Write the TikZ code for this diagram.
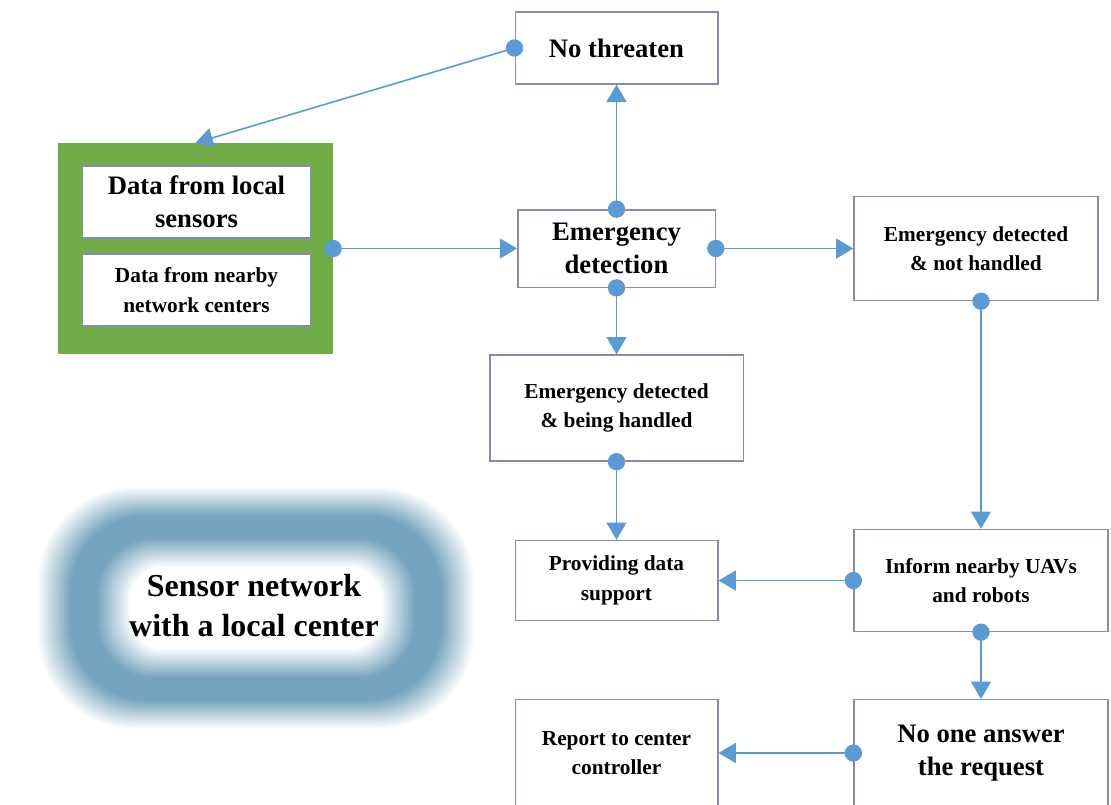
\documentclass[tikz,border=0pt]{standalone}
\usepackage{fontspec}
\setmainfont{Liberation Serif}
\usetikzlibrary{arrows.meta}

\definecolor{lineblue}{HTML}{5B9BD5}
\definecolor{boxline}{HTML}{8E88AE}
\definecolor{framegreen}{HTML}{70AD47}
\definecolor{cloudblue}{HTML}{74A3BD}

\begin{document}
\begin{tikzpicture}[x=0.75pt, y=-0.75pt,
    box/.style={draw=boxline, line width=1pt, fill=white, align=center, font=\bfseries},
    bigtext/.style={font=\fontsize{20}{25}\selectfont\bfseries},
    smalltext/.style={font=\fontsize{16}{22}\selectfont\bfseries},
    link/.style={draw=lineblue, line width=1.2pt, -{Triangle[width=15pt,length=13pt]}},
    dot/.style={fill=lineblue}]
    \useasboundingbox (0,0) rectangle (1111,804);

    % blurred cloud around the label
    \foreach \i in {0,...,60} {
        \pgfmathsetmacro\t{\i/60}
        \pgfmathsetmacro\c{max(0, min(100, 300*\t, 300*(0.9-\t)))}
        \pgfmathsetmacro\w{220 - 105*\t}
        \pgfmathsetmacro\h{122 - 90*\t}
        \pgfmathsetmacro\r{0.75*\h*0.8}
        \fill[cloudblue!\c!white, rounded corners=\r pt] (256-\w, 608-\h) rectangle (256+\w, 608+\h);
    }
    \node[font=\fontsize{24}{30}\selectfont\bfseries, align=center] (sensnet) at (254,606) {Sensor network\\with a local center};

    % green frame with the two data boxes
    \node[fill=framegreen, minimum width=206pt, minimum height=158pt] (green) at (195.5,248.5) {};
    \node[box, bigtext, minimum width=171pt, minimum height=54pt] (local) at (196.5,202) {Data from local\\sensors};
    \node[box, smalltext, minimum width=171pt, minimum height=54pt] (nearby) at (196.5,290) {Data from nearby\\network centers};

    % flow boxes
    \node[box, bigtext, minimum width=152pt, minimum height=54pt] (nothr) at (616.5,48) {No threaten};
    \node[box, bigtext, minimum width=148pt, minimum height=58pt] (emg) at (616.5,248.5) {Emergency\\detection};
    \node[box, smalltext, minimum width=183pt, minimum height=78pt] (nothand) at (976,248.5) {Emergency detected\\\& not handled};
    \node[box, smalltext, minimum width=190pt, minimum height=79.5pt] (beinghand) at (616.5,408) {Emergency detected\\\& being handled};
    \node[box, smalltext, minimum width=152pt, minimum height=60pt] (provide) at (616.5,580.5) {Providing data\\support};
    \node[box, smalltext, minimum width=190.5pt, minimum height=76.5pt] (inform) at (981,580.5) {Inform nearby UAVs\\and robots};
    \node[box, bigtext, minimum width=190.5pt, minimum height=80pt] (noone) at (981,753) {No one answer\\the request};
    \node[box, smalltext, minimum width=152pt, minimum height=80pt] (report) at (616.5,753) {Report to center\\controller};

    % connectors
    \coordinate (handout) at (inform.north |- nothand.south);
    \draw[link] (nothr.west) -- (green.north);
    \draw[link] (green.east) -- (emg.west);
    \draw[link] (emg.north) -- (nothr.south);
    \draw[link] (emg.east) -- (nothand.west);
    \draw[link] (emg.south) -- (beinghand.north);
    \draw[link] (beinghand.south) -- (provide.north);
    \draw[link] (handout) -- (inform.north);
    \draw[link] (inform.west) -- (provide.east);
    \draw[link] (inform.south) -- (noone.north);
    \draw[link] (noone.west) -- (report.east);

    \foreach \p in {nothr.west, green.east, emg.north, emg.east, emg.south, beinghand.south, handout, inform.west, inform.south, noone.west}
        \fill[dot] (\p) circle (6.5pt);
\end{tikzpicture}
\end{document}
